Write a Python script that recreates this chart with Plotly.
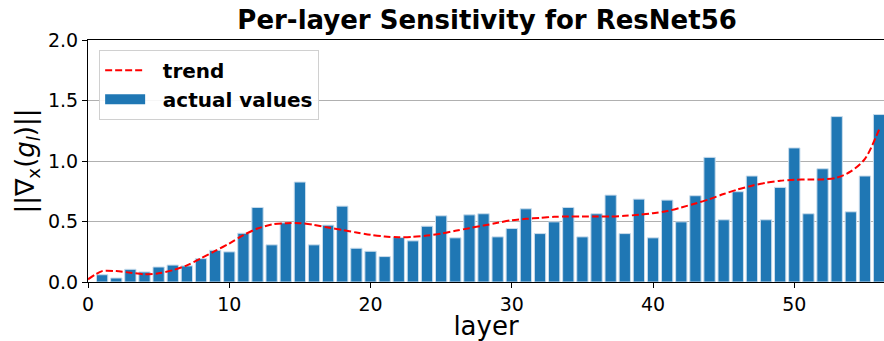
import plotly.graph_objects as go

layers = list(range(1, 57))
actual_values = [0.06, 0.033, 0.105, 0.083, 0.124, 0.14, 0.133, 0.193, 0.262, 0.249,
                 0.403, 0.616, 0.307, 0.489, 0.826, 0.307, 0.47, 0.627, 0.279, 0.254,
                 0.21, 0.367, 0.34, 0.461, 0.547, 0.365, 0.555, 0.564, 0.373, 0.442,
                 0.605, 0.4, 0.497, 0.616, 0.373, 0.564, 0.718, 0.4, 0.685, 0.365,
                 0.677, 0.497, 0.713, 1.03, 0.514, 0.746, 0.876, 0.514, 0.782, 1.108,
                 0.564, 0.936, 1.367, 0.58, 0.876, 1.384]

trend_x = list(range(0, 57))
trend_values = [0.022, 0.09, 0.09, 0.077, 0.064, 0.072, 0.097, 0.138, 0.196, 0.257,
                0.318, 0.387, 0.442, 0.475, 0.486, 0.486, 0.472, 0.45, 0.43, 0.409,
                0.39, 0.376, 0.37, 0.373, 0.384, 0.4, 0.423, 0.445, 0.467, 0.489,
                0.511, 0.522, 0.53, 0.539, 0.541, 0.541, 0.541, 0.541, 0.547, 0.555,
                0.569, 0.586, 0.616, 0.649, 0.685, 0.727, 0.765, 0.796, 0.82, 0.837,
                0.845, 0.848, 0.848, 0.862, 0.914, 1.017, 1.26]

x_ticks = [0, 10, 20, 30, 40, 50]
y_ticks = [0.0, 0.5, 1.0, 1.5, 2.0]
y_tick_text = ["0.0", "0.5", "1.0", "1.5", "2.0"]

FONT = "DejaVu Sans"
BAR_COLOR = "#1f77b4"
PAD = "\u00a0\u00a0"

fig = go.Figure()
fig.add_trace(go.Bar(
    x=layers, y=actual_values, width=0.8, name="actual values", showlegend=False,
    marker=dict(color=BAR_COLOR, line=dict(color="#c9dcec", width=1)),
))
fig.add_trace(go.Scatter(
    x=trend_x, y=trend_values, mode="lines", name=PAD + "<b>trend</b>",
    line=dict(color="red", width=2, dash="7px,3px", shape="spline", smoothing=0.8),
    legendrank=1,
))
# legend swatch for the bars (wide rectangle like the reference)
fig.add_trace(go.Scatter(
    x=[None], y=[None], mode="lines", name=PAD + "<b>actual values</b>",
    line=dict(color=BAR_COLOR, width=15), legendrank=2,
))

fig.update_layout(
    width=884, height=341,
    margin=dict(l=88, r=0, t=40, b=59),
    plot_bgcolor="white", paper_bgcolor="white",
    font=dict(family=FONT, color="black"),
    title=dict(text="<b>Per-layer Sensitivity for ResNet56</b>", x=0.551, xanchor="center",
               y=0.968, yanchor="top", font=dict(family=FONT, size=26, color="black")),
    showlegend=True,
    legend=dict(x=0.014, y=0.96, xanchor="left", yanchor="top",
                bgcolor="rgba(255,255,255,0.9)", bordercolor="#d0d0d0", borderwidth=1,
                font=dict(family=FONT, size=20, color="black"), itemwidth=40,
                tracegroupgap=2),
    bargap=0.2,
)

fig.update_xaxes(
    range=[0, 56.35], tickvals=x_ticks, ticks="outside", ticklen=5, tickcolor="black",
    showline=True, linecolor="black", linewidth=1.2, mirror=True, showgrid=False,
    zeroline=False, tickfont=dict(family=FONT, size=19, color="black"),
    title=dict(text="layer", font=dict(family=FONT, size=26, color="black"), standoff=6),
)
fig.update_yaxes(
    range=[0, 2.0], tickvals=y_ticks, ticktext=y_tick_text, ticks="outside", ticklen=5,
    tickcolor="black", showline=True, linecolor="black", linewidth=1.2,
    showgrid=True, gridcolor="#b0b0b0", gridwidth=1, zeroline=False,
    tickfont=dict(family=FONT, size=19, color="black"),
    title=dict(text="||∇<sub>x</sub>(<i>g<sub>l</sub></i>)||",
               font=dict(family=FONT, size=26, color="black"), standoff=5),
)

fig.write_html("out.html")
